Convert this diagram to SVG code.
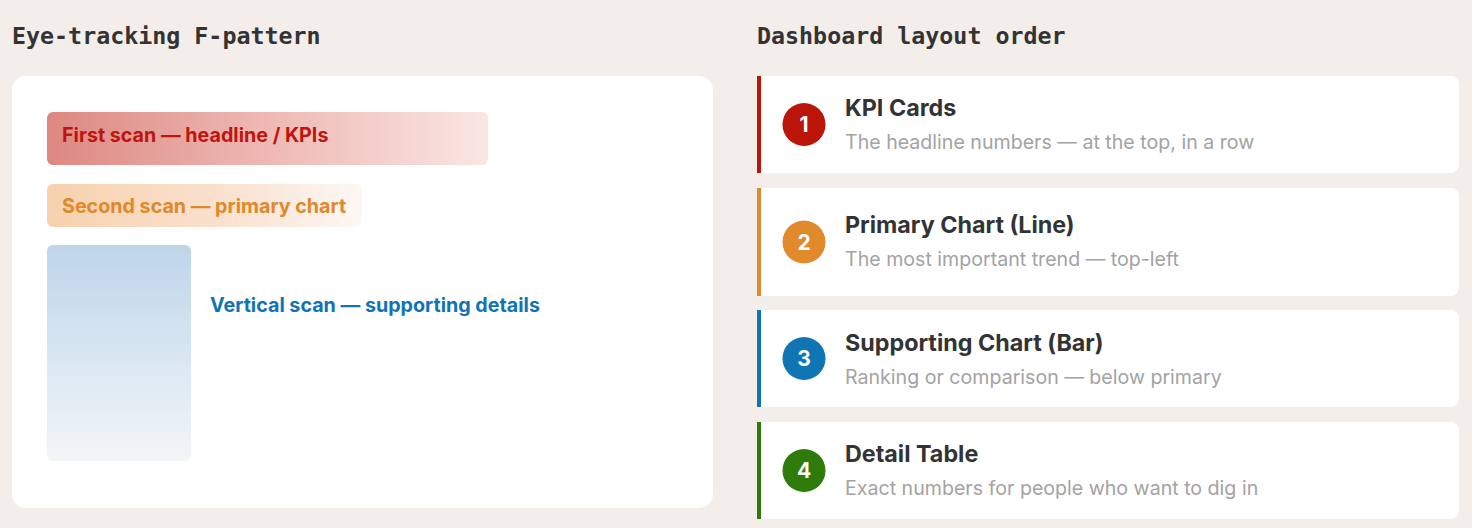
<svg xmlns="http://www.w3.org/2000/svg" width="1472" height="528" viewBox="0 0 1472 528">
<style>
.h{font-family:"DejaVu Sans Mono","Liberation Mono",monospace;font-weight:bold;font-size:23.3px;fill:#333}
.lbl{font-family:Inter,"Noto Sans",sans-serif;font-weight:700;font-size:19.7px}
.t{font-family:Inter,"Noto Sans",sans-serif;font-weight:700;font-size:23.3px;fill:#333}
.s{font-family:Inter,"Noto Sans",sans-serif;font-size:19.6px;fill:#a3a3a3}
.n{font-family:Inter,"Noto Sans",sans-serif;font-weight:700;font-size:21px;fill:#fff;text-anchor:middle}
.card{fill:#fff}
</style>
<defs>
<linearGradient id="g1" x1="0" y1="0" x2="1" y2="0"><stop offset="0" stop-color="#dd8881"/><stop offset="0.5" stop-color="#eeb9b4"/><stop offset="1" stop-color="#f9e6e3"/></linearGradient>
<linearGradient id="g2" x1="0" y1="0" x2="1" y2="0"><stop offset="0" stop-color="#f7d1ad"/><stop offset="0.6" stop-color="#fae3d2"/><stop offset="1" stop-color="#fdf8f5"/></linearGradient>
<linearGradient id="g3" x1="0" y1="0" x2="0" y2="1"><stop offset="0" stop-color="#bed5e9"/><stop offset="0.5" stop-color="#d8e6f2"/><stop offset="1" stop-color="#f3f5f7"/></linearGradient>
</defs>
<rect width="1472" height="528" fill="#f3eeea"/>
<text class="h" x="12" y="44">Eye-tracking F-pattern</text>
<text class="h" x="757" y="44">Dashboard layout order</text>
<g id="fpattern">
<rect x="12" y="76" width="701" height="432" rx="14" fill="#fff"/>
<g id="first-scan"><rect x="47" y="112" width="441" height="53" rx="6" fill="url(#g1)"/><text class="lbl" x="62" y="142" fill="#c0150f">First scan — headline / KPIs</text></g>
<g id="second-scan"><rect x="47" y="184" width="315" height="43" rx="6" fill="url(#g2)"/><text class="lbl" x="62" y="213" fill="#e0882a">Second scan — primary chart</text></g>
<g id="vertical-scan"><rect x="47" y="245" width="144" height="216" rx="6" fill="url(#g3)"/><text class="lbl" x="210" y="312" fill="#1173b4">Vertical scan — supporting details</text></g>
</g>
<g id="card1">
<path class="card" d="M757 76H1451a8 8 0 0 1 8 8V165a8 8 0 0 1-8 8H757Z"/><rect x="757" y="76" width="4" height="97" fill="#bb1408"/>
<circle cx="804" cy="124.5" r="21.5" fill="#bb1408"/><text class="n" x="804" y="132">1</text>
<text class="t" x="845" y="116">KPI Cards</text><text class="s" x="845" y="149">The headline numbers — at the top, in a row</text>
</g>
<g id="card2">
<path class="card" d="M757 188H1451a8 8 0 0 1 8 8V288a8 8 0 0 1-8 8H757Z"/><rect x="757" y="188" width="4" height="108" fill="#e08a2c"/>
<circle cx="804" cy="242" r="21.5" fill="#e08a2c"/><text class="n" x="804" y="249.5">2</text>
<text class="t" x="845" y="233">Primary Chart (Line)</text><text class="s" x="845" y="266">The most important trend — top-left</text>
</g>
<g id="card3">
<path class="card" d="M757 310H1451a8 8 0 0 1 8 8V399a8 8 0 0 1-8 8H757Z"/><rect x="757" y="310" width="4" height="97" fill="#0f76b3"/>
<circle cx="804" cy="358.5" r="21.5" fill="#0f76b3"/><text class="n" x="804" y="366">3</text>
<text class="t" x="845" y="351">Supporting Chart (Bar)</text><text class="s" x="845" y="383.5">Ranking or comparison — below primary</text>
</g>
<g id="card4">
<path class="card" d="M757 422H1451a8 8 0 0 1 8 8V511a8 8 0 0 1-8 8H757Z"/><rect x="757" y="422" width="4" height="97" fill="#2e7a0b"/>
<circle cx="804" cy="470.5" r="21.5" fill="#2e7a0b"/><text class="n" x="804" y="478">4</text>
<text class="t" x="845" y="462">Detail Table</text><text class="s" x="845" y="495">Exact numbers for people who want to dig in</text>
</g>
<g id="connectors"/>
</svg>
